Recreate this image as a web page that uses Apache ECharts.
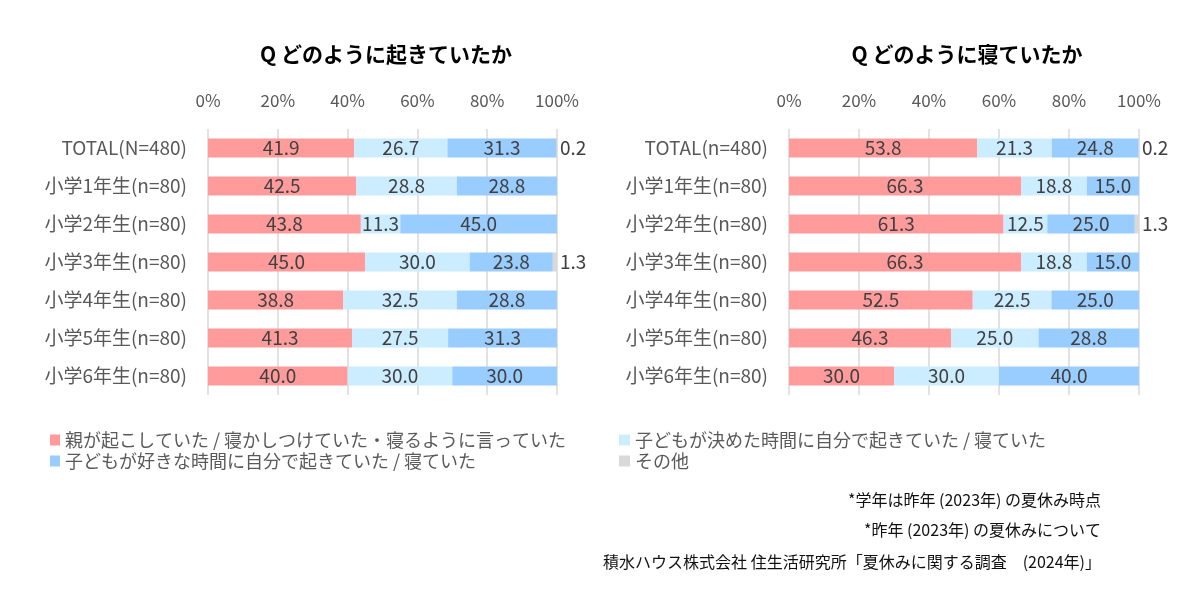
<!DOCTYPE html>
<html>
<head>
<meta charset="utf-8">
<script src="https://cdn.jsdelivr.net/npm/echarts@6/dist/echarts.min.js"></script>
<style>
html,body{margin:0;padding:0;background:#fff;}
#chart{width:1199px;height:592px;}
</style>
</head>
<body>
<div id="chart"></div>
<script>
var categories = ['TOTAL(N=480)','小学1年生(n=80)','小学2年生(n=80)','小学3年生(n=80)','小学4年生(n=80)','小学5年生(n=80)','小学6年生(n=80)'];
var categories2 = ['TOTAL(n=480)','小学1年生(n=80)','小学2年生(n=80)','小学3年生(n=80)','小学4年生(n=80)','小学5年生(n=80)','小学6年生(n=80)'];
var seriesNames = ['親が起こしていた / 寝かしつけていた・寝るように言っていた','子どもが決めた時間に自分で起きていた / 寝ていた','子どもが好きな時間に自分で起きていた / 寝ていた','その他'];
var colors = ['#FF9B9B','#CCECFF','#99CCFF','#D9D9D9'];

// Q どのように起きていたか
var wakeParent  = [41.9, 42.5, 43.8, 45.0, 38.8, 41.3, 40.0];
var wakeDecided = [26.7, 28.8, 11.3, 30.0, 32.5, 27.5, 30.0];
var wakeFree    = [31.3, 28.8, 45.0, 23.8, 28.8, 31.3, 30.0];
var wakeOther   = [0.2, 0, 0, 1.3, 0, 0, 0];

// Q どのように寝ていたか
var sleepParent  = [53.8, 66.3, 61.3, 66.3, 52.5, 46.3, 30.0];
var sleepDecided = [21.3, 18.8, 12.5, 18.8, 22.5, 25.0, 30.0];
var sleepFree    = [24.8, 15.0, 25.0, 15.0, 25.0, 28.8, 40.0];
var sleepOther   = [0.2, 0, 1.3, 0, 0, 0, 0];

var notes = ['*学年は昨年 (2023年) の夏休み時点', '*昨年 (2023年) の夏休みについて', '積水ハウス株式会社 住生活研究所「夏休みに関する調査　(2024年)」'];

var font = '"Noto Sans CJK JP", sans-serif';
var chart = echarts.init(document.getElementById('chart'));

function barSeries(name, color, data, gi, isOther){
	return {
		name: name,
		type: 'bar',
		stack: 'g' + gi,
		xAxisIndex: gi,
		yAxisIndex: gi,
		barWidth: 19,
		itemStyle: {color: color},
		label: {
			show: true,
			position: isOther ? 'right' : 'inside',
			distance: 3,
			color: '#404040',
			fontSize: 19,
			fontFamily: font,
			formatter: function(p){
				return p.value > 0 ? p.value.toFixed(1) : '';
			}
		},
		data: data
	};
}

var grids = [{left:208, width:349, top:129, height:266}, {left:789, width:350, top:129, height:266}];

var xAxes = [0,1].map(function(i){
	return {
		type: 'value', gridIndex: i, position: 'top', min: 0, max: 100, interval: 20,
		axisLine: {show:false}, axisTick: {show:false},
		axisLabel: {formatter: '{value}%', color:'#595959', fontSize:17, fontFamily: font, margin: 20},
		splitLine: {lineStyle: {color:'#D9D9D9', width: 1.5}}
	};
});
var yAxes = [categories, categories2].map(function(c, i){
	return {
		type: 'category', gridIndex: i, inverse: true, data: c,
		axisLine: {show:false}, axisTick: {show:false},
		axisLabel: {color:'#595959', fontSize:19, fontFamily: font, margin: 21}
	};
});

var series = [
	barSeries(seriesNames[0], colors[0], wakeParent, 0),
	barSeries(seriesNames[1], colors[1], wakeDecided, 0),
	barSeries(seriesNames[2], colors[2], wakeFree, 0),
	barSeries(seriesNames[3], colors[3], wakeOther, 0, true),
	barSeries(seriesNames[0], colors[0], sleepParent, 1),
	barSeries(seriesNames[1], colors[1], sleepDecided, 1),
	barSeries(seriesNames[2], colors[2], sleepFree, 1),
	barSeries(seriesNames[3], colors[3], sleepOther, 1, true)
];

var legendText = {color:'#595959', fontSize:18, fontFamily: font, padding:[3,0,0,0]};

chart.setOption({
	animation: false,
	title: [
		{text:'Q どのように起きていたか', left:381, top:39, textAlign:'center',
			textStyle:{fontSize:21, fontWeight:'bold', color:'#000', fontFamily: font}},
		{text:'Q どのように寝ていたか', left:962, top:39, textAlign:'center',
			textStyle:{fontSize:21, fontWeight:'bold', color:'#000', fontFamily: font}}
	],
	legend: [
		{orient:'vertical', left:45, top:426, itemWidth:10, itemHeight:11, itemGap:3, icon:'rect',
			data:[seriesNames[0], seriesNames[2]], textStyle: legendText},
		{orient:'vertical', left:614, top:426, itemWidth:11, itemHeight:11, itemGap:3, icon:'rect',
			data:[seriesNames[1], seriesNames[3]], textStyle: legendText}
	],
	grid: grids,
	xAxis: xAxes,
	yAxis: yAxes,
	series: series,
	graphic: notes.map(function(t, i){
		return {type:'text', x:1101, y:[500, 530, 562][i],
			style:{text:t, fill:'#111', font:'16px ' + font, align:'right', verticalAlign:'middle'}};
	})
});
</script>
</body>
</html>
